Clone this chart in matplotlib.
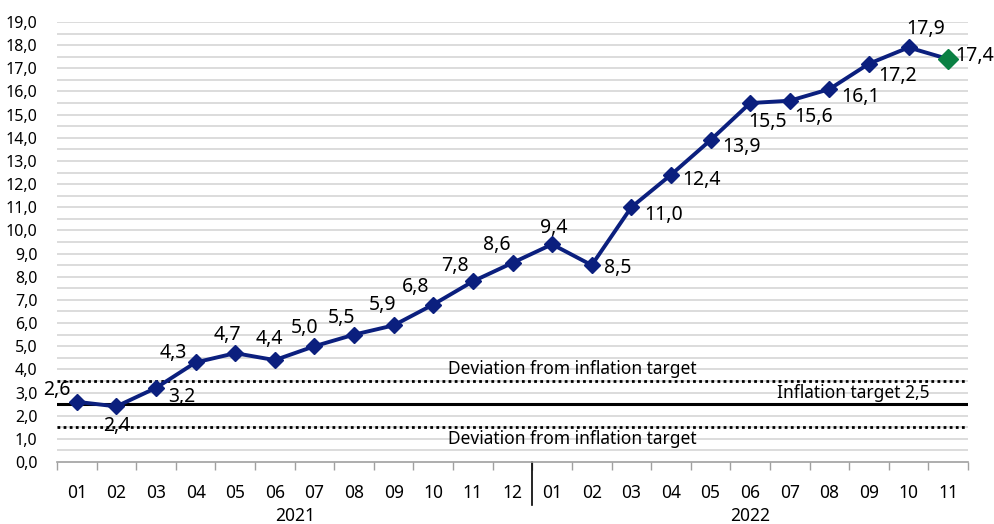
import matplotlib
matplotlib.use("Agg")
import matplotlib.pyplot as plt
from matplotlib.ticker import FixedLocator

plt.rcParams['font.family'] = ['Noto Sans', 'DejaVu Sans']

months = ["01", "02", "03", "04", "05", "06", "07", "08", "09", "10", "11", "12",
          "01", "02", "03", "04", "05", "06", "07", "08", "09", "10", "11"]
years = ["2021", "2022"]
values = [2.6, 2.4, 3.2, 4.3, 4.7, 4.4, 5.0, 5.5, 5.9, 6.8, 7.8, 8.6,
          9.4, 8.5, 11.0, 12.4, 13.9, 15.5, 15.6, 16.1, 17.2, 17.9, 17.4]
target = 2.5
upper_dev = 3.5
lower_dev = 1.5
dev_label = "Deviation from inflation target"
target_label = "Inflation target 2,5"

# label offsets in pixels (dx, dy with dy positive = up)
offs = [(-20, 12), (0, -20), (26, -9), (-22, 9), (-8, 18), (-5, 21), (-10, 18),
        (-13, 17), (-11, 20), (-18, 18), (-18, 15), (-16, 18), (2, 16), (26, -3),
        (32, -8), (31, -5), (31, -7), (17, -19), (24, -16), (31, -8), (29, -12),
        (17, 18), (26, 3)]

W, H = 995, 524
fig = plt.figure(figsize=(W / 100, H / 100), dpi=100)
ax = fig.add_axes([57 / W, 1 - 462 / H, (968 - 57) / W, (462 - 22) / H])

n = len(values)
x = list(range(n))
ax.set_xlim(-0.5, n - 0.5)
ax.set_ylim(0, 19)

# grid every 0.5
for g in [i * 0.5 for i in range(1, 39)]:
    ax.axhline(g, color="#d9d9d9", lw=1.3, zorder=0)

ax.axhline(upper_dev, color="black", lw=2, ls=(0, (1, 1.2)), zorder=1)
ax.axhline(lower_dev, color="black", lw=2, ls=(0, (1, 1.2)), zorder=1)
ax.axhline(target, color="black", lw=2.2, zorder=1)

ax.text(12.5, upper_dev + 0.12, dev_label, ha="center", va="bottom", fontsize=12.5)
ax.text(12.5, lower_dev - 0.12, dev_label, ha="center", va="top", fontsize=12.5)
ax.text(19.6, target + 0.08, target_label, ha="center", va="bottom", fontsize=12.5)

line_color = "#0b1f7e"
ax.plot(x, values, color=line_color, lw=2.8, zorder=3)
ax.plot(x[:-1], values[:-1], ls="none", marker="D", ms=8, color=line_color, zorder=4)
ax.plot(x[-1:], values[-1:], ls="none", marker="D", ms=10, color="#0a8043", zorder=4)

for xi, v, (dx, dy) in zip(x, values, offs):
    ax.annotate(f"{v:.1f}".replace(".", ","), (xi, v), xytext=(dx * 0.72, dy * 0.72),
                textcoords="offset points", ha="center", va="center", fontsize=14, zorder=5)

# y axis
ax.set_yticks(range(0, 20))
ax.set_yticklabels([f"{t:.1f}".replace(".", ",") for t in range(0, 20)], fontsize=11.5)
ax.tick_params(axis="y", length=0, pad=14)

# x axis
ax.xaxis.set_major_locator(FixedLocator([i - 0.5 for i in range(n + 1)]))
ax.xaxis.set_major_formatter(plt.NullFormatter())
ax.tick_params(axis="x", which="major", length=6, color="#a0a0a0", width=1)
ax.xaxis.set_minor_locator(FixedLocator(x))
ax.set_xticklabels(months, minor=True, fontsize=12.5)
ax.tick_params(axis="x", which="minor", length=0, pad=16)

for s in ["left", "right", "top"]:
    ax.spines[s].set_visible(False)
ax.spines["bottom"].set_color("#a0a0a0")
ax.spines["bottom"].set_linewidth(1.2)

# year separator
ax.plot([11.5, 11.5], [0, -43 / 440 * 19], color="black", lw=1.2, clip_on=False)
ax.text(5.5, -54 / 440 * 19, years[0], ha="center", va="center", fontsize=12.5)
ax.text(17.0, -54 / 440 * 19, years[1], ha="center", va="center", fontsize=12.5)

fig.savefig("out.png", dpi=100)
